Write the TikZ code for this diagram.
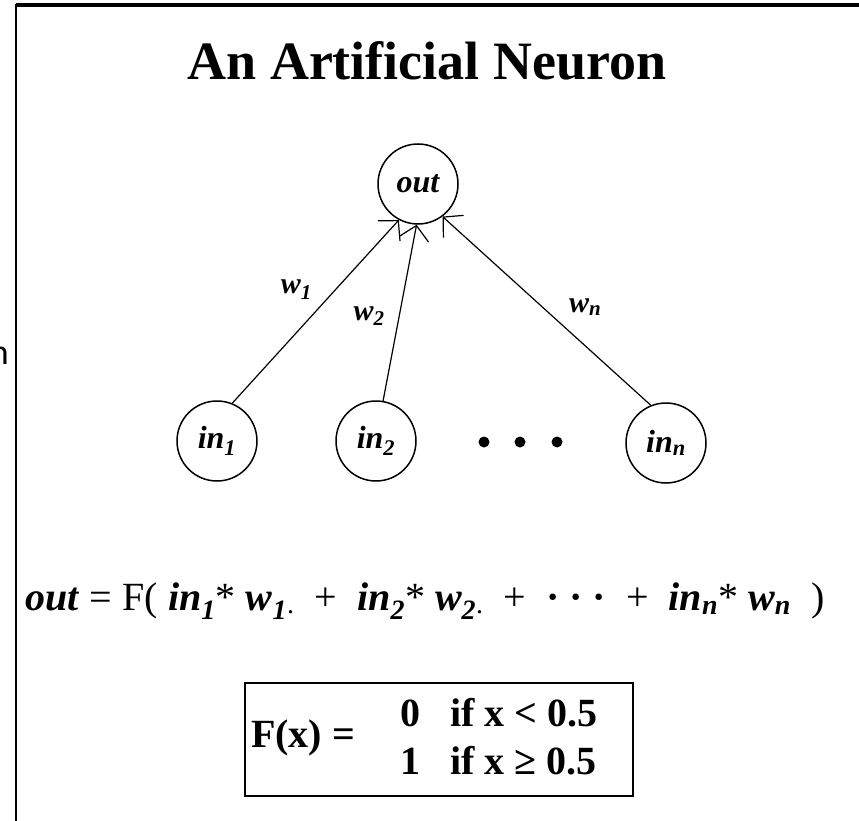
\documentclass[tikz,border=0pt]{standalone}
\usepackage{fontspec}
\setmainfont{Liberation Serif}
\newfontfamily\cropfont{Carlito}
\usetikzlibrary{arrows.meta}
\newcommand{\idx}[1]{\textsubscript{#1}}
\newcommand{\bi}[1]{\textbf{\textit{#1}}}
\tikzset{
  unit/.style={circle,draw,line width=1.5pt,minimum size=80pt,inner sep=0pt,
    font=\fontsize{32}{36}\selectfont\bfseries\itshape},
  weight/.style={inner sep=0pt,font=\fontsize{30}{34}\selectfont\bfseries\itshape},
  link/.style={line width=1.2pt,-{Straight Barb[length=14pt,width=30pt,line width=1.2pt]}},
  rowtext/.style={anchor=west,inner sep=0pt,font=\fontsize{40}{44}\selectfont\bfseries}
}
\begin{document}
\begin{tikzpicture}[x=1pt,y=-1pt]
  \useasboundingbox (0,0) rectangle (859,821);
  % frame of the slide
  \draw[line width=3.5pt] (16,5) -- (859,5);
  \draw[line width=2pt] (16,821) -- (16,4);
  \node[anchor=base east,inner sep=0pt,font=\fontsize{36}{40}\selectfont\cropfont] (cut) at (9,364) {n};
  % title
  \node[anchor=base,inner sep=0pt,font=\fontsize{54}{60}\selectfont\bfseries] (title) at (427,80) {An Artificial Neuron};
  % neurons
  \node[unit] (out) at (418,184) {out};
  \node[unit] (in1) at (217,441) {in\idx{1}};
  \node[unit] (in2) at (376,441) {in\idx{2}};
  \node[unit] (inn) at (666,443) {in\idx{n}};
  \foreach \x/\name in {484/d1,520/d2,557/d3}
    \fill (\x,442) circle (5.5pt) coordinate (\name);
  % weighted links
  \draw[link] (in1.68) -- node[pos=0.62,left=23pt,weight] (w1) {w\idx{1}} (out.242);
  \draw[link] (in2.80) -- node[pos=0.48,left=14pt,weight] (w2) {w\idx{2}} (out.268);
  \draw[link] (inn.112) -- node[pos=0.52,right=26pt,weight] (wn) {w\idx{n}} (out.307);
  % sum
  \node[anchor=base,inner sep=0pt,font=\fontsize{40}{44}\selectfont] (sum) at (425,610)
    {\bi{out} = F( \bi{in\idx{1}}* \bi{w\idx{1}}\idx{.} \ + \ \bi{in\idx{2}}* \bi{w\idx{2}}\idx{.} \ + \ \textbf{· · ·} \ + \ \bi{in\idx{n}}* \bi{w\idx{n}} \ )};
  % threshold function
  \draw[line width=1.3pt] (245,683) rectangle (633,796);
  \node[rowtext] (fx) at (251,738) {F(x) =};
  \node[rowtext] (row1) at (400,713) {0\hspace{30pt}if x \textless{} 0.5};
  \node[rowtext] (row2) at (400,761) {1\hspace{30pt}if x ≥ 0.5};
\end{tikzpicture}
\end{document}
